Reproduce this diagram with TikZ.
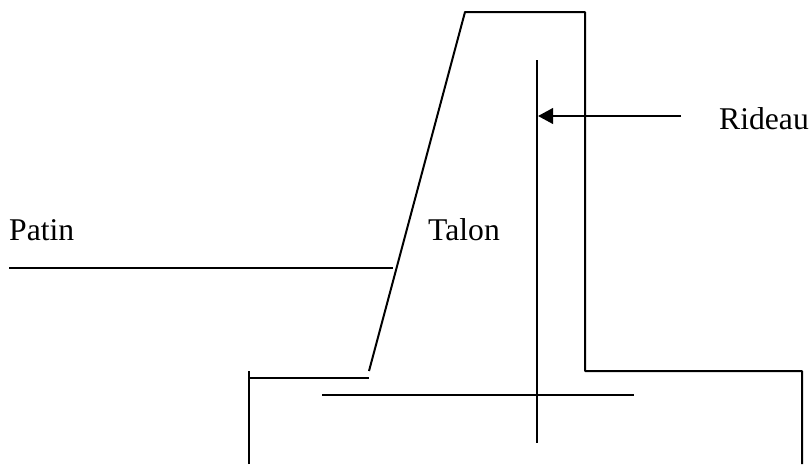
\documentclass[tikz,border=0pt]{standalone}
\usepackage{fontspec}
\setmainfont{Liberation Serif}
\usetikzlibrary{arrows.meta}
\tikzset{
	wall/.style={line width=1.7pt},
	axis line/.style={line width=1.35pt},
	leader/.style={line width=2pt},
	label text/.style={font=\fontsize{27}{30}\selectfont,inner sep=0pt,anchor=base west}
}
\begin{document}
\begin{tikzpicture}[line join=round,x=0.03cm,y=-0.03cm]
		\useasboundingbox (0,0) rectangle (810,464);
		\path
		(249,464)coordinate(A)
		(249,371)coordinate(A1)
		(249,378)coordinate(B)
		(369,378)coordinate(C)
		(369,371)coordinate(D)
		(465,12)coordinate(E)
		(585,12)coordinate(F)
		(585,371)coordinate(G)
		(802,371)coordinate(H)
		(802,464)coordinate(I)
		(322,395)coordinate(J)
		(634,395)coordinate(K)
		(537,60)coordinate(L)
		(537,443)coordinate(M)
		(681,116)coordinate(N)
		(538,116)coordinate(O)
		(9,268)coordinate(P)
		(393,268)coordinate(Q);
		\draw[wall] (A)--(A1) (B)--(C);
		\draw[wall] (D)--(E)--(F)--(G)--(H)--(I);
		\draw[axis line] (J)--(K);
		\draw[axis line] (L)--(M);
		\draw[leader,-{Triangle[length=15*0.03cm,width=15.5*0.03cm]}] (N)--(O);
		\draw[leader] (P)--(Q);
		\node[label text] (patin) at (9,240.5) {Patin};
		\node[label text] (talon) at (428,240.5) {Talon};
		\node[label text] (rideau) at (719,129.5) {Rideau};
		\end{tikzpicture}
\end{document}
